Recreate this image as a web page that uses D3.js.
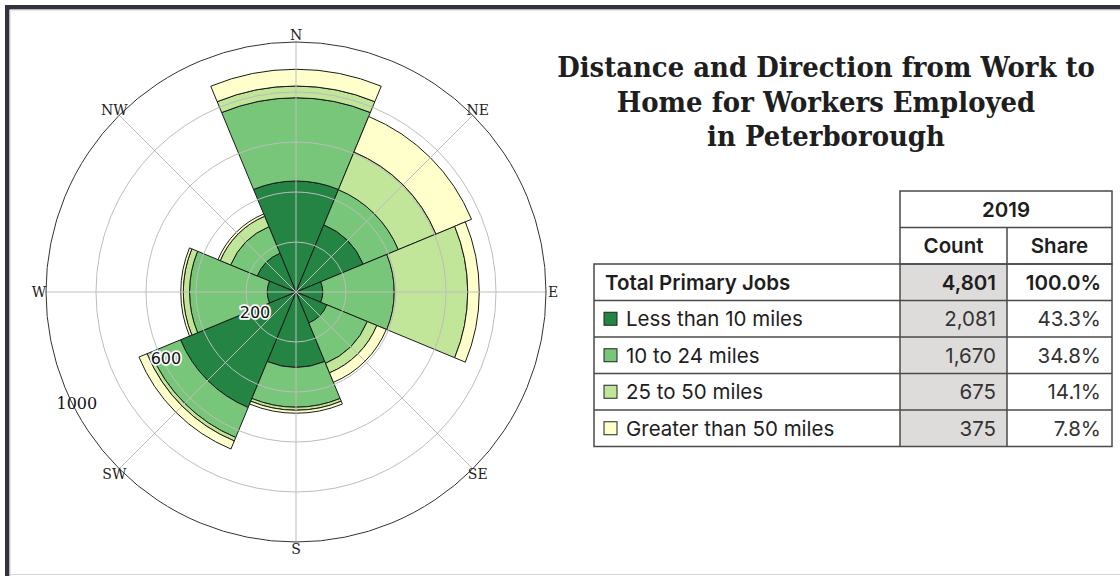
<!DOCTYPE html>
<html>
<head>
<meta charset="utf-8">
<script src="https://cdn.jsdelivr.net/npm/d3@7"></script>
<style>
  html, body { margin: 0; padding: 0; background: #fff; }
  svg { display: block; }
</style>
</head>
<body>
<div id="main-content"></div>
<script>
// Compass directions, clockwise from north
const directions = ["N", "NE", "E", "SE", "S", "SW", "W", "NW"];

// Workers per direction for each distance band
const lessThan10 = [444, 291, 107, 134, 301, 500, 115, 168];
const from10to24 = [333, 152, 286, 175, 160, 130, 311, 115];
const from25to50 = [47, 163, 294, 41, 12, 15, 25, 45];
const over50 = [67, 154, 46, 41, 12, 35, 10, 10];

// Radial grid rings and the ones that carry a label
const radialTicks = [200, 400, 600, 800];
const radialLabels = [200, 600, 1000];
const radialMax = 1000;

// Summary table
const bandNames = ["Less than 10 miles", "10 to 24 miles", "25 to 50 miles", "Greater than 50 miles"];
const bandCounts = [2081, 1670, 675, 375];
const bandShares = [43.3, 34.8, 14.1, 7.8];
const totalCount = 4801;
const totalShare = 100.0;
const bandColors = ["#238443", "#78c679", "#c2e699", "#ffffcc"];

const titleLines = ["Distance and Direction from Work to", "Home for Workers Employed", "in Peterborough"];

const width = 1120, height = 576;
const cx = 296, cy = 292, outerR = 250;

const svg = d3.select("#main-content")
    .append("svg")
    .attr("width", width)
    .attr("height", height);

// Card frame: dark top/left edge plus a thin grey inner line
svg.append("path")
    .attr("d", "M7.25,576 V7.25 H1120")
    .attr("fill", "none")
    .attr("stroke", "#32333e")
    .attr("stroke-width", 4.5);
svg.append("path")
    .attr("d", "M10,576 V10 H1120 M10,574.5 H1120")
    .attr("fill", "none")
    .attr("stroke", "#d4d4d6")
    .attr("stroke-width", 1);

// ---- Wind rose ----
const rose = svg.append("g").attr("transform", `translate(${cx},${cy})`);

const r = d3.scaleLinear().domain([0, radialMax]).range([0, outerR]);
const angle = d3.scaleBand()
    .domain(directions)
    .range([-Math.PI / 8, 2 * Math.PI - Math.PI / 8])
    .paddingInner(0).paddingOuter(0);

// Stack the four bands per direction
const rows = directions.map((d, i) => ({
    dir: d, b0: lessThan10[i], b1: from10to24[i], b2: from25to50[i], b3: over50[i]
}));
const stacked = d3.stack().keys(["b0", "b1", "b2", "b3"])(rows);

const arc = d3.arc()
    .innerRadius(d => r(d[0]))
    .outerRadius(d => r(d[1]))
    .startAngle(d => angle(d.data.dir))
    .endAngle(d => angle(d.data.dir) + angle.bandwidth());

rose.selectAll(".band")
    .data(stacked)
    .enter()
    .append("g")
    .attr("class", "band")
    .attr("fill", (d, i) => bandColors[i])
    .selectAll("path")
    .data(d => d)
    .enter()
    .append("path")
    .attr("d", arc)
    .attr("stroke", "#1b1b1b")
    .attr("stroke-width", 1)
    .attr("stroke-linejoin", "miter");

// Grid drawn over the bars, as in the original
rose.selectAll(".ring")
    .data(radialTicks)
    .enter()
    .append("circle")
    .attr("class", "ring")
    .attr("r", d => r(d))
    .attr("fill", "none")
    .attr("stroke", "#bdbdbd")
    .attr("stroke-width", 1);

const compass = d => (directions.indexOf(d) * Math.PI) / 4;

rose.selectAll(".spoke")
    .data(directions)
    .enter()
    .append("line")
    .attr("class", "spoke")
    .attr("x1", 0).attr("y1", 0)
    .attr("x2", d => outerR * Math.sin(compass(d)))
    .attr("y2", d => -outerR * Math.cos(compass(d)))
    .attr("stroke", "#bdbdbd")
    .attr("stroke-width", 1);

rose.append("circle")
    .attr("r", r(radialMax))
    .attr("fill", "none")
    .attr("stroke", "#333")
    .attr("stroke-width", 1);

// Direction labels just outside the outer ring
rose.selectAll(".dir")
    .data(directions)
    .enter()
    .append("text")
    .attr("class", "dir")
    .attr("x", d => (outerR + 7) * Math.sin(compass(d)))
    .attr("y", d => -(outerR + 7) * Math.cos(compass(d)))
    .attr("text-anchor", "middle")
    .attr("dominant-baseline", "central")
    .style("font-family", "'DejaVu Serif', serif")
    .style("font-size", "14px")
    .style("fill", "#222")
    .text(d => d);

// Radial labels along a line a bit below west-south-west
const labelAngle = (243 * Math.PI) / 180;
rose.selectAll(".rlabel")
    .data(radialLabels)
    .enter()
    .append("text")
    .attr("class", "rlabel")
    .attr("x", d => (r(d) - 4) * Math.sin(labelAngle))
    .attr("y", d => -(r(d) - 4) * Math.cos(labelAngle))
    .attr("text-anchor", "middle")
    .attr("dominant-baseline", "central")
    .style("font-family", d => d === radialMax ? "'DejaVu Serif', serif" : "'DejaVu Sans', sans-serif")
    .style("font-size", "16px")
    .style("fill", "#111")
    .style("stroke", d => d === radialMax ? "none" : "#fff")
    .style("stroke-width", 3.5)
    .style("paint-order", "stroke")
    .style("stroke-linejoin", "round")
    .text(d => d);

// ---- Title ----
// The original face is a narrower bold serif: squeeze DejaVu Serif to the same line width
const titleX = 826, titleWidth = 538;
const title = svg.append("g");
title.selectAll("text")
    .data(titleLines)
    .enter()
    .append("text")
    .attr("x", titleX)
    .attr("y", (d, i) => 77.5 + i * 34.5)
    .attr("text-anchor", "middle")
    .style("font-family", "'DejaVu Serif', serif")
    .style("font-weight", "bold")
    .style("font-size", "27px")
    .style("fill", "#1e1e1e")
    .text(d => d);
const firstLine = title.select("text").node().getComputedTextLength();
const squeeze = titleWidth / firstLine;
title.attr("transform", `translate(${titleX},0) scale(${squeeze},1) translate(${-titleX},0)`);

// ---- Table ----
const colX = [594, 900, 1007, 1112];
const rowY = d3.range(8).map(k => 191 + k * 36.5);
const table = svg.append("g").style("font-family", "Inter, 'Noto Sans', sans-serif").style("fill", "#1e1e1e");
const lineColor = "#4a4a4a";
const fontSize = "20.5px";

// Grey background of the count column in the body
table.append("rect")
    .attr("x", colX[1]).attr("y", rowY[2])
    .attr("width", colX[2] - colX[1]).attr("height", rowY[7] - rowY[2])
    .attr("fill", "#dddcdb");

// Header cells only span Count and Share
const grid = table.append("g").attr("fill", "none").attr("stroke", lineColor).attr("stroke-width", 1.5);
grid.append("rect").attr("x", colX[1]).attr("y", rowY[0]).attr("width", colX[3] - colX[1]).attr("height", rowY[2] - rowY[0]);
grid.append("line").attr("x1", colX[1]).attr("x2", colX[3]).attr("y1", rowY[1]).attr("y2", rowY[1]);
grid.append("line").attr("x1", colX[2]).attr("x2", colX[2]).attr("y1", rowY[1]).attr("y2", rowY[7]);
grid.append("rect").attr("x", colX[0]).attr("y", rowY[2]).attr("width", colX[3] - colX[0]).attr("height", rowY[7] - rowY[2]);
grid.append("line").attr("x1", colX[1]).attr("x2", colX[1]).attr("y1", rowY[2]).attr("y2", rowY[7]);
grid.selectAll(".hline")
    .data(rowY.slice(3, 7))
    .enter()
    .append("line")
    .attr("x1", colX[0]).attr("x2", colX[3])
    .attr("y1", d => d).attr("y2", d => d);

const mid = k => (rowY[k] + rowY[k + 1]) / 2;
const fmt = d3.format(",");

table.append("text")
    .attr("x", (colX[1] + colX[3]) / 2).attr("y", mid(0))
    .attr("text-anchor", "middle").attr("dominant-baseline", "central")
    .style("font-size", fontSize).style("font-weight", 600)
    .text("2019");
table.append("text")
    .attr("x", (colX[1] + colX[2]) / 2).attr("y", mid(1))
    .attr("text-anchor", "middle").attr("dominant-baseline", "central")
    .style("font-size", fontSize).style("font-weight", 600)
    .text("Count");
table.append("text")
    .attr("x", (colX[2] + colX[3]) / 2).attr("y", mid(1))
    .attr("text-anchor", "middle").attr("dominant-baseline", "central")
    .style("font-size", fontSize).style("font-weight", 600)
    .text("Share");

// Total row
table.append("text")
    .attr("x", colX[0] + 11).attr("y", mid(2))
    .attr("dominant-baseline", "central")
    .style("font-size", fontSize).style("font-weight", 600)
    .text("Total Primary Jobs");
table.append("text")
    .attr("x", colX[2] - 11).attr("y", mid(2))
    .attr("text-anchor", "end").attr("dominant-baseline", "central")
    .style("font-size", fontSize).style("font-weight", 600)
    .text(fmt(totalCount));
table.append("text")
    .attr("x", colX[3] - 11).attr("y", mid(2))
    .attr("text-anchor", "end").attr("dominant-baseline", "central")
    .style("font-size", fontSize).style("font-weight", 600)
    .text(totalShare.toFixed(1) + "%");

// Band rows with legend swatches
const bandRow = table.selectAll(".bandrow")
    .data(bandNames)
    .enter()
    .append("g")
    .attr("class", "bandrow");

bandRow.append("rect")
    .attr("x", colX[0] + 10)
    .attr("y", (d, i) => mid(i + 3) - 6.5)
    .attr("width", 13).attr("height", 13)
    .attr("fill", (d, i) => bandColors[i])
    .attr("stroke", "#222").attr("stroke-width", 1);

bandRow.append("text")
    .attr("x", colX[0] + 32)
    .attr("y", (d, i) => mid(i + 3))
    .attr("dominant-baseline", "central")
    .style("font-size", fontSize)
    .text(d => d);

bandRow.append("text")
    .attr("x", colX[2] - 11)
    .attr("y", (d, i) => mid(i + 3))
    .attr("text-anchor", "end").attr("dominant-baseline", "central")
    .style("font-size", fontSize).style("fill", "#333")
    .text((d, i) => fmt(bandCounts[i]));

bandRow.append("text")
    .attr("x", colX[3] - 11)
    .attr("y", (d, i) => mid(i + 3))
    .attr("text-anchor", "end").attr("dominant-baseline", "central")
    .style("font-size", fontSize).style("fill", "#333")
    .text((d, i) => bandShares[i].toFixed(1) + "%");
</script>
</body>
</html>
